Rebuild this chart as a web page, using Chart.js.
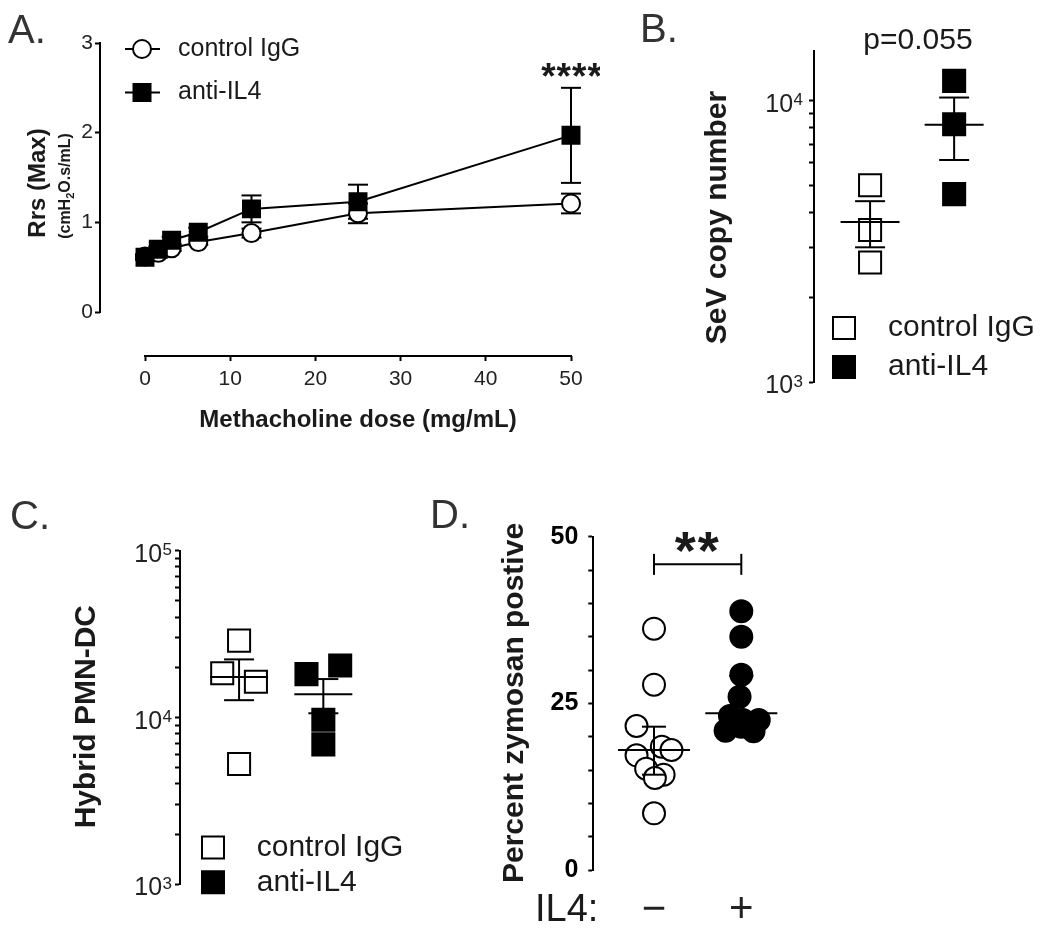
<!DOCTYPE html>
<html>
<head>
<meta charset="utf-8">
<script src="https://cdn.jsdelivr.net/npm/chart.js@4.4.1/dist/chart.umd.min.js"></script>
<style>
html, body { margin: 0; padding: 0; background: #fff; }
#wrap { position: relative; width: 1050px; height: 939px; overflow: hidden; background: #fff; }
canvas { position: absolute; }
</style>
</head>
<body>
<div id="wrap">
  <canvas id="cA" width="600" height="460" style="left:0px;top:0px"></canvas>
  <canvas id="cB" width="490" height="460" style="left:560px;top:0px"></canvas>
  <canvas id="cC" width="430" height="469" style="left:0px;top:470px"></canvas>
  <canvas id="cD" width="620" height="469" style="left:430px;top:470px"></canvas>
</div>
<script>
// ================= DATA =================
const seriesNames = ['control IgG', 'anti-IL4'];

// Panel A : Rrs (Max) vs methacholine dose
const doses      = [0, 1.5625, 3.125, 6.25, 12.5, 25, 50];
const ctrlRrs    = [0.62, 0.66, 0.71, 0.78, 0.88, 1.10, 1.21];
const ctrlRrsSem = [0.02, 0.03, 0.03, 0.03, 0.05, 0.11, 0.11];
const antiRrs    = [0.61, 0.70, 0.80, 0.89, 1.15, 1.23, 1.97];
const antiRrsSem = [0.03, 0.03, 0.04, 0.05, 0.15, 0.19, 0.53];
const doseTicks  = [0, 10, 20, 30, 40, 50];
const rrsTicks   = [0, 1, 2, 3];

// Panel B : SeV copy number
const sevCtrl = [5000, 3470, 2660];
const sevAnti = [11750, 8240, 4650];
const sevMean = [3700, 8200];
const sevSem  = [690, 2050];
const sevTicks = [1000, 2000, 3000, 4000, 5000, 6000, 7000, 8000, 9000, 10000];
const sevLabelValues = [1000, 10000];
const sevLabelBase   = ['10', '10'];
const sevLabelExp    = ['3', '4'];

// Panel C : Hybrid PMN-DC
const pmnCtrl  = [28900, 18400, 16400, 5260];
const pmnCtrlJ = [0, -0.2, 0.2, 0];
const pmnAnti  = [18200, 20500, 9700, 6900];
const pmnAntiJ = [-0.2, 0.2, 0, 0];
const pmnMean  = [17500, 13800];
const pmnSem   = [4800, 3200];
const pmnTicks = [1000, 2000, 3000, 4000, 5000, 6000, 7000, 8000, 9000, 10000,
                  20000, 30000, 40000, 50000, 60000, 70000, 80000, 90000, 100000];
const pmnLabelValues = [1000, 10000, 100000];
const pmnLabelBase   = ['10', '10', '10'];
const pmnLabelExp    = ['3', '4', '5'];

// Panel D : Percent zymosan positive
const zymGroups = ['−', '+'];
const zymCtrl  = [36.2, 27.8, 21.6, 18.5, 18.0, 17.2, 15.2, 14.3, 13.8, 8.5];
const zymCtrlJ = [0, 0, -0.2, 0.09, 0.2, -0.2, -0.09, 0.11, 0.01, 0];
const zymAnti  = [38.8, 35.0, 29.3, 26.0, 23.1, 22.5, 22.5, 21.5, 20.9, 20.8];
const zymAntiJ = [0, 0, 0, -0.02, -0.13, 0.2, 0.02, 0, -0.18, 0.14];
const zymMedian = [18.0, 23.5];
const zymQ1     = [14.3, 22.0];
const zymQ3     = [21.5, 29.1];
const zymTicks  = [0, 5, 10, 15, 20, 25, 30, 35, 40, 45, 50];
const zymLabelValues = [0, 25, 50];
const zymLabelText   = ['0', '25', '50'];
const zymBracket = 45.85;

// ================= HELPERS =================
const FONT = "'Liberation Sans', Arial, Helvetica, sans-serif";
Chart.defaults.font.family = FONT;
Chart.defaults.color = '#222';
const INK = '#1a1a1a';

function drawText(ctx, s, x, y, o) {
  ctx.save();
  ctx.font = o.font; ctx.fillStyle = o.color || INK;
  ctx.textAlign = o.align || 'center'; ctx.textBaseline = o.base || 'middle';
  if (o.spacing) ctx.letterSpacing = o.spacing;
  ctx.translate(x, y); if (o.rot) ctx.rotate(o.rot);
  ctx.fillText(s, 0, 0);
  ctx.restore();
}
function seg(ctx, x1, y1, x2, y2, w) {
  ctx.save(); ctx.beginPath(); ctx.moveTo(x1, y1); ctx.lineTo(x2, y2);
  ctx.lineWidth = w || 2; ctx.strokeStyle = '#000'; ctx.stroke(); ctx.restore();
}
function errorBar(ctx, x, yHi, yLo, cap) {
  seg(ctx, x, yHi, x, yLo);
  seg(ctx, x - cap, yHi, x + cap, yHi);
  seg(ctx, x - cap, yLo, x + cap, yLo);
}
function box(ctx, cx, cy, side, filled) {
  ctx.save(); ctx.lineWidth = 2; ctx.strokeStyle = '#000'; ctx.fillStyle = filled ? '#000' : '#fff';
  ctx.beginPath(); ctx.rect(cx - side / 2, cy - side / 2, side, side); ctx.fill(); ctx.stroke(); ctx.restore();
}
function ring(ctx, cx, cy, r, filled) {
  ctx.save(); ctx.lineWidth = 2; ctx.strokeStyle = '#000'; ctx.fillStyle = filled ? '#000' : '#fff';
  ctx.beginPath(); ctx.arc(cx, cy, r, 0, Math.PI * 2); ctx.fill(); ctx.stroke(); ctx.restore();
}
// power-of-ten tick labels with a real superscript, placed with the scale
function powerLabels(ctx, scale, values, bases, exps, rightX) {
  values.forEach((v, i) => {
    const py = scale.getPixelForValue(v);
    ctx.save();
    ctx.fillStyle = '#222'; ctx.textAlign = 'right'; ctx.textBaseline = 'alphabetic';
    ctx.font = `17px ${FONT}`;
    const ew = ctx.measureText(exps[i]).width;
    ctx.fillText(exps[i], rightX, py + 4.5);
    ctx.font = `25px ${FONT}`;
    ctx.fillText(bases[i], rightX - ew - 0.5, py + 11);
    ctx.restore();
  });
}
function fixedTicks(vals) { return s => { s.ticks = vals.map(v => ({ value: v })); }; }
function labelFrom(values, texts) {
  return v => { const i = values.indexOf(v); return i >= 0 ? texts[i] : ''; };
}
const ROT = -Math.PI / 2;
const baseOpts = { responsive: false, animation: false, events: [], plugins: { legend: { display: false }, tooltip: { enabled: false } } };
const tickGrid = { drawOnChartArea: false, color: '#000', tickColor: '#000', tickLength: 5, tickWidth: 2 };

// ================= PANEL A =================
const plugA = {
  id: 'plugA',
  beforeDatasetsDraw(chart) {
    const { ctx, chartArea, scales: { x, y } } = chart;
    seg(ctx, chartArea.left, y.getPixelForValue(rrsTicks[0]) + 1, chartArea.left, y.getPixelForValue(rrsTicks[rrsTicks.length - 1]) - 1);
    seg(ctx, x.getPixelForValue(doseTicks[0]) - 1, chartArea.bottom, x.getPixelForValue(doseTicks[doseTicks.length - 1]) + 1, chartArea.bottom);
    doses.forEach((d, i) => {
      const px = x.getPixelForValue(d);
      errorBar(ctx, px, y.getPixelForValue(ctrlRrs[i] + ctrlRrsSem[i]), y.getPixelForValue(ctrlRrs[i] - ctrlRrsSem[i]), 10);
      errorBar(ctx, px, y.getPixelForValue(antiRrs[i] + antiRrsSem[i]), y.getPixelForValue(antiRrs[i] - antiRrsSem[i]), 10);
    });
  },
  afterDraw(chart) {
    const { ctx, scales: { x, y } } = chart;
    drawText(ctx, 'A.', 8, 43, { font: `40px ${FONT}`, color: '#333', align: 'left', base: 'alphabetic' });
    drawText(ctx, 'Rrs (Max)', 38.7, 183, { font: `bold 24px ${FONT}`, rot: ROT });
    ctx.save(); ctx.translate(65.5, 186); ctx.rotate(ROT);
    ctx.fillStyle = INK; ctx.textBaseline = 'middle'; ctx.textAlign = 'left';
    const big = `bold 16px ${FONT}`, small = `bold 11px ${FONT}`;
    const parts = [['(cmH', big, 0], ['2', small, 5], ['O.s/mL)', big, 0]];
    let tot = 0; parts.forEach(p => { ctx.font = p[1]; p.push(ctx.measureText(p[0]).width); tot += p[3]; });
    let xx = -tot / 2; parts.forEach(p => { ctx.font = p[1]; ctx.fillText(p[0], xx, p[2]); xx += p[3]; });
    ctx.restore();
    const xc = (x.getPixelForValue(doseTicks[0]) + x.getPixelForValue(doseTicks[doseTicks.length - 1])) / 2;
    drawText(ctx, 'Methacholine dose (mg/mL)', xc, 420, { font: `bold 24px ${FONT}` });
    seg(ctx, 125, 49, 160, 49); ring(ctx, 142, 49, 9, false);
    seg(ctx, 125, 92.5, 160, 92.5); box(ctx, 142, 92.5, 17, true);
    drawText(ctx, seriesNames[0], 178, 49, { font: `25px ${FONT}`, align: 'left' });
    drawText(ctx, seriesNames[1], 178, 92.5, { font: `25px ${FONT}`, align: 'left' });
    drawText(ctx, '****', x.getPixelForValue(doses[doses.length - 1]) + 1, 89, { font: `bold 37px ${FONT}`, base: 'alphabetic', spacing: '1px' });
  }
};

new Chart(document.getElementById('cA'), {
  type: 'line',
  data: {
    datasets: [
      { label: seriesNames[1], data: doses.map((d, i) => ({ x: d, y: antiRrs[i] })), order: 0,
        borderColor: '#000', borderWidth: 2, tension: 0, clip: false,
        pointStyle: 'rect', pointRadius: 12, pointBackgroundColor: '#000', pointBorderColor: '#000', pointBorderWidth: 2 },
      { label: seriesNames[0], data: doses.map((d, i) => ({ x: d, y: ctrlRrs[i] })), order: 1,
        borderColor: '#000', borderWidth: 2, tension: 0, clip: false,
        pointStyle: 'circle', pointRadius: 9, pointBackgroundColor: '#fff', pointBorderColor: '#000', pointBorderWidth: 2 }
    ]
  },
  options: Object.assign({}, baseOpts, {
    layout: { padding: { left: 0, top: 43, right: 29, bottom: 0 } },
    scales: {
      x: { type: 'linear', min: -5.282, max: 50, afterFit: s => { s.height = 104; }, afterBuildTicks: fixedTicks(doseTicks),
           border: { display: false }, grid: tickGrid,
           ticks: { font: { size: 21 }, color: '#222', padding: 6, maxRotation: 0, autoSkip: false, callback: v => String(v) } },
      y: { type: 'linear', min: -0.4907, max: 3, afterFit: s => { s.width = 100; }, afterBuildTicks: fixedTicks(rrsTicks),
           border: { display: false }, grid: tickGrid,
           ticks: { font: { size: 21 }, color: '#222', padding: 2, autoSkip: false, callback: v => String(v) } }
    }
  }),
  plugins: [plugA]
});

// ================= PANEL B =================
const plugB = {
  id: 'plugB',
  afterDatasetsDraw(chart) {
    const { ctx, scales: { x, y } } = chart;
    sevMean.forEach((m, g) => {
      const px = x.getPixelForValue(g + 1);
      seg(ctx, px - 29.5, y.getPixelForValue(m), px + 29.5, y.getPixelForValue(m));
      errorBar(ctx, px, y.getPixelForValue(m + sevSem[g]), y.getPixelForValue(m - sevSem[g]), 15);
    });
  },
  afterDraw(chart) {
    const { ctx, chartArea, scales: { y } } = chart;
    powerLabels(ctx, y, sevLabelValues, sevLabelBase, sevLabelExp, chartArea.left - 11);
    drawText(ctx, 'B.', 80, 42, { font: `40px ${FONT}`, color: '#333', align: 'left', base: 'alphabetic' });
    drawText(ctx, 'SeV copy number', 158, 217.5, { font: `bold 30px ${FONT}`, rot: ROT });
    drawText(ctx, 'p=0.055', 358, 41, { font: `30px ${FONT}` });
    box(ctx, 284, 328, 22, false); box(ctx, 284, 367, 22, true);
    drawText(ctx, seriesNames[0], 328, 328, { font: `30px ${FONT}`, align: 'left' });
    drawText(ctx, seriesNames[1], 328, 367, { font: `30px ${FONT}`, align: 'left' });
  }
};

new Chart(document.getElementById('cB'), {
  type: 'scatter',
  data: {
    datasets: [
      { label: seriesNames[0], data: sevCtrl.map(v => ({ x: 1, y: v })), clip: false,
        pointStyle: 'rect', pointRadius: 15.6, pointBackgroundColor: '#fff', pointBorderColor: '#000', pointBorderWidth: 2 },
      { label: seriesNames[1], data: sevAnti.map(v => ({ x: 2, y: v })), clip: false,
        pointStyle: 'rect', pointRadius: 15.6, pointBackgroundColor: '#000', pointBorderColor: '#000', pointBorderWidth: 2 }
    ]
  },
  options: Object.assign({}, baseOpts, {
    layout: { padding: { left: 0, top: 51, right: 10, bottom: 78 } },
    scales: {
      x: { type: 'linear', display: false, min: 0.333, max: 2.931 },
      y: { type: 'logarithmic', min: 1000, max: 15000, afterFit: s => { s.width = 254; }, afterBuildTicks: fixedTicks(sevTicks),
           border: { display: true, color: '#000', width: 2 }, grid: tickGrid,
           ticks: { font: { size: 25 }, color: '#222', padding: 6, autoSkip: false, callback: () => '' } }
    }
  }),
  plugins: [plugB]
});

// ================= PANEL C =================
const plugC = {
  id: 'plugC',
  afterDatasetsDraw(chart) {
    const { ctx, scales: { x, y } } = chart;
    pmnMean.forEach((m, g) => {
      const px = x.getPixelForValue(g + 1);
      seg(ctx, px - 29, y.getPixelForValue(m), px + 29, y.getPixelForValue(m));
      errorBar(ctx, px, y.getPixelForValue(m + pmnSem[g]), y.getPixelForValue(m - pmnSem[g]), 15);
    });
  },
  afterDraw(chart) {
    const { ctx, chartArea, scales: { y } } = chart;
    powerLabels(ctx, y, pmnLabelValues, pmnLabelBase, pmnLabelExp, chartArea.left - 8);
    drawText(ctx, 'C.', 10, 59, { font: `40px ${FONT}`, color: '#333', align: 'left', base: 'alphabetic' });
    drawText(ctx, 'Hybrid PMN-DC', 87, 246.7, { font: `bold 30px ${FONT}`, rot: ROT });
    box(ctx, 213, 377.5, 22, false); box(ctx, 213, 412.3, 22, true);
    drawText(ctx, seriesNames[0], 256.7, 377.5, { font: `30px ${FONT}`, align: 'left' });
    drawText(ctx, seriesNames[1], 256.7, 412.3, { font: `30px ${FONT}`, align: 'left' });
  }
};

new Chart(document.getElementById('cC'), {
  type: 'scatter',
  data: {
    datasets: [
      { label: seriesNames[0], data: pmnCtrl.map((v, i) => ({ x: 1 + pmnCtrlJ[i], y: v })), clip: false,
        pointStyle: 'rect', pointRadius: 15.6, pointBackgroundColor: '#fff', pointBorderColor: '#000', pointBorderWidth: 2 },
      { label: seriesNames[1], data: pmnAnti.map((v, i) => ({ x: 2 + pmnAntiJ[i], y: v })), clip: false,
        pointStyle: 'rect', pointRadius: 15.6, pointBackgroundColor: '#000', pointBorderColor: '#000', pointBorderWidth: 2 }
    ]
  },
  options: Object.assign({}, baseOpts, {
    layout: { padding: { left: 0, top: 80.7, right: 10, bottom: 54.7 } },
    scales: {
      x: { type: 'linear', display: false, min: 0.299, max: 3.057 },
      y: { type: 'logarithmic', min: 1000, max: 100000, afterFit: s => { s.width = 180; }, afterBuildTicks: fixedTicks(pmnTicks),
           border: { display: true, color: '#000', width: 2 }, grid: tickGrid,
           ticks: { font: { size: 25 }, color: '#222', padding: 3, autoSkip: false, callback: () => '' } }
    }
  }),
  plugins: [plugC]
});

// ================= PANEL D =================
const plugD = {
  id: 'plugD',
  afterDatasetsDraw(chart) {
    const { ctx, scales: { x, y } } = chart;
    zymMedian.forEach((m, g) => {
      const px = x.getPixelForValue(g + 1);
      seg(ctx, px - 36, y.getPixelForValue(m), px + 36, y.getPixelForValue(m));
      errorBar(ctx, px, y.getPixelForValue(zymQ3[g]), y.getPixelForValue(zymQ1[g]), 12);
    });
  },
  afterDraw(chart) {
    const { ctx, scales: { x, y } } = chart;
    drawText(ctx, 'D.', 0, 58, { font: `40px ${FONT}`, color: '#333', align: 'left', base: 'alphabetic' });
    drawText(ctx, 'Percent zymosan postive', 84.5, 233, { font: `bold 30px ${FONT}`, rot: ROT });
    drawText(ctx, 'IL4:', 105, 441, { font: `38px ${FONT}`, align: 'left' });
    const x1 = x.getPixelForValue(1), x2 = x.getPixelForValue(2), by = y.getPixelForValue(zymBracket);
    seg(ctx, x1, by, x2, by);
    seg(ctx, x1, by - 10.5, x1, by + 10.5);
    seg(ctx, x2, by - 10.5, x2, by + 10.5);
    drawText(ctx, '**', (x1 + x2) / 2, by + 5, { font: `bold 54px ${FONT}`, base: 'alphabetic', spacing: '2px' });
  }
};

new Chart(document.getElementById('cD'), {
  type: 'scatter',
  data: {
    datasets: [
      { label: 'IL4 −', data: zymCtrl.map((v, i) => ({ x: 1 + zymCtrlJ[i], y: v })), clip: false,
        pointStyle: 'circle', pointRadius: 11, pointBackgroundColor: '#fff', pointBorderColor: '#000', pointBorderWidth: 2 },
      { label: 'IL4 +', data: zymAnti.map((v, i) => ({ x: 2 + zymAntiJ[i], y: v })), clip: false,
        pointStyle: 'circle', pointRadius: 11, pointBackgroundColor: '#000', pointBorderColor: '#000', pointBorderWidth: 2 }
    ]
  },
  options: Object.assign({}, baseOpts, {
    layout: { padding: { left: 0, top: 66.7, right: 220, bottom: 0 } },
    scales: {
      x: { type: 'linear', min: 0.3047, max: 3.016, afterFit: s => { s.height = 69; }, afterBuildTicks: fixedTicks([1, 2]),
           border: { display: false }, grid: { display: false, drawTicks: false },
           ticks: { font: { size: 42 }, color: '#222', padding: 15, maxRotation: 0, autoSkip: false, callback: (v, i) => zymGroups[i] } },
      y: { type: 'linear', min: 0, max: 50, afterFit: s => { s.width = 163.3; }, afterBuildTicks: fixedTicks(zymTicks),
           border: { display: true, color: '#000', width: 2 }, grid: tickGrid,
           ticks: { font: { size: 25, weight: 'bold' }, color: '#000', padding: 10, autoSkip: false, callback: labelFrom(zymLabelValues, zymLabelText) } }
    }
  }),
  plugins: [plugD]
});
</script>
</body>
</html>
